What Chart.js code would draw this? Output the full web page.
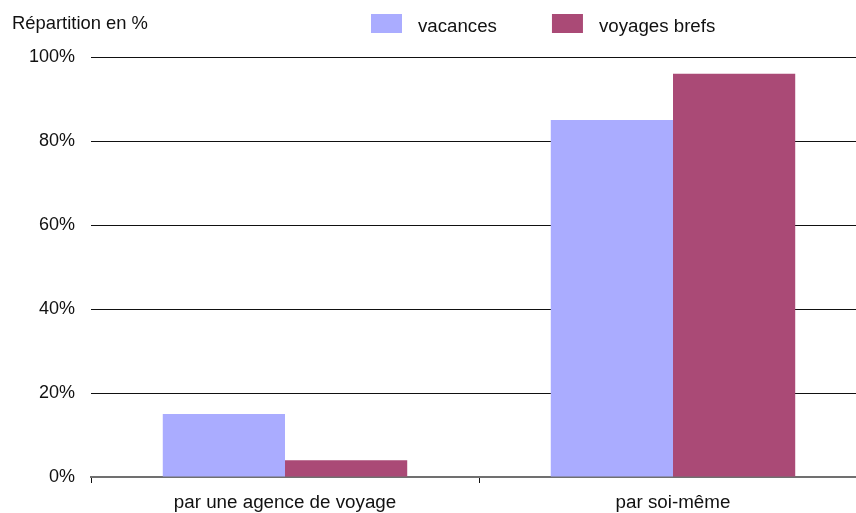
<!DOCTYPE html>
<html>
<head>
<meta charset="utf-8">
<script src="https://cdn.jsdelivr.net/npm/chart.js@4"></script>
<style>
html,body{margin:0;padding:0;background:#fff;overflow:hidden;}
#wrap{width:856px;height:513px;position:relative;overflow:hidden;}
</style>
</head>
<body>
<div id="wrap"><canvas id="c" width="867" height="513"></canvas></div>
<script>
const categories = ["par une agence de voyage", "par soi-même"];
const seriesNames = ["vacances", "voyages brefs"];
const vacances = [15, 85];
const voyagesBrefs = [4, 96];
const yTicks = [0, 20, 40, 60, 80, 100];
const yTitle = "Répartition en %";
const colors = ["#AAACFF", "#AA4A76"];

const FONT = "'Liberation Sans', Arial, Helvetica, sans-serif";

const headerPlugin = {
  id: 'header',
  afterDraw(chart) {
    const ctx = chart.ctx;
    ctx.save();
    ctx.font = "18.4px " + FONT;
    ctx.fillStyle = "#111";
    ctx.textBaseline = "alphabetic";
    ctx.textAlign = "left";
    ctx.fillText(yTitle, 12, 29);
    ctx.font = "18.7px " + FONT;
    let x = 371;
    chart.data.datasets.forEach((ds, i) => {
      ctx.fillStyle = ds.backgroundColor;
      ctx.fillRect(x, 14, 31, 19);
      ctx.fillStyle = "#111";
      const tx = x + 47;
      ctx.fillText(ds.label, tx, 32);
      x = tx + ctx.measureText(ds.label).width + 55;
    });
    ctx.restore();
  }
};

new Chart(document.getElementById('c'), {
  type: 'bar',
  data: {
    labels: categories,
    datasets: [
      { label: seriesNames[0], data: vacances, backgroundColor: colors[0] },
      { label: seriesNames[1], data: voyagesBrefs, backgroundColor: colors[1] }
    ]
  },
  options: {
    responsive: false,
    animation: false,
    layout: { padding: { top: 57, right: 0, left: 0, bottom: 0 } },
    datasets: { bar: { categoryPercentage: 0.63, barPercentage: 1.0, borderWidth: 0 } },
    plugins: { legend: { display: false }, title: { display: false }, tooltip: { enabled: false } },
    scales: {
      x: {
        afterFit(scale) { scale.height = 36; },
        grid: { offset: true, drawOnChartArea: false, drawTicks: true, tickLength: 6, color: "#111", lineWidth: 1 },
        border: { display: true, color: "#707070", width: 2 },
        ticks: { color: "#111", font: { family: FONT, size: 18.8 }, padding: 9, maxRotation: 0 }
      },
      y: {
        min: 0, max: 100,
        afterFit(scale) { scale.width = 91; },
        afterBuildTicks(scale) { scale.ticks = yTicks.map(v => ({ value: v })); },
        grid: { drawTicks: false, color: (c) => c.tick && c.tick.value === 0 ? "rgba(0,0,0,0)" : "#111", lineWidth: 1 },
        border: { display: false },
        ticks: { color: "#111", font: { family: FONT, size: 18 }, padding: 16, callback: v => v + "%" }
      }
    }
  },
  plugins: [headerPlugin]
});
</script>
</body>
</html>
